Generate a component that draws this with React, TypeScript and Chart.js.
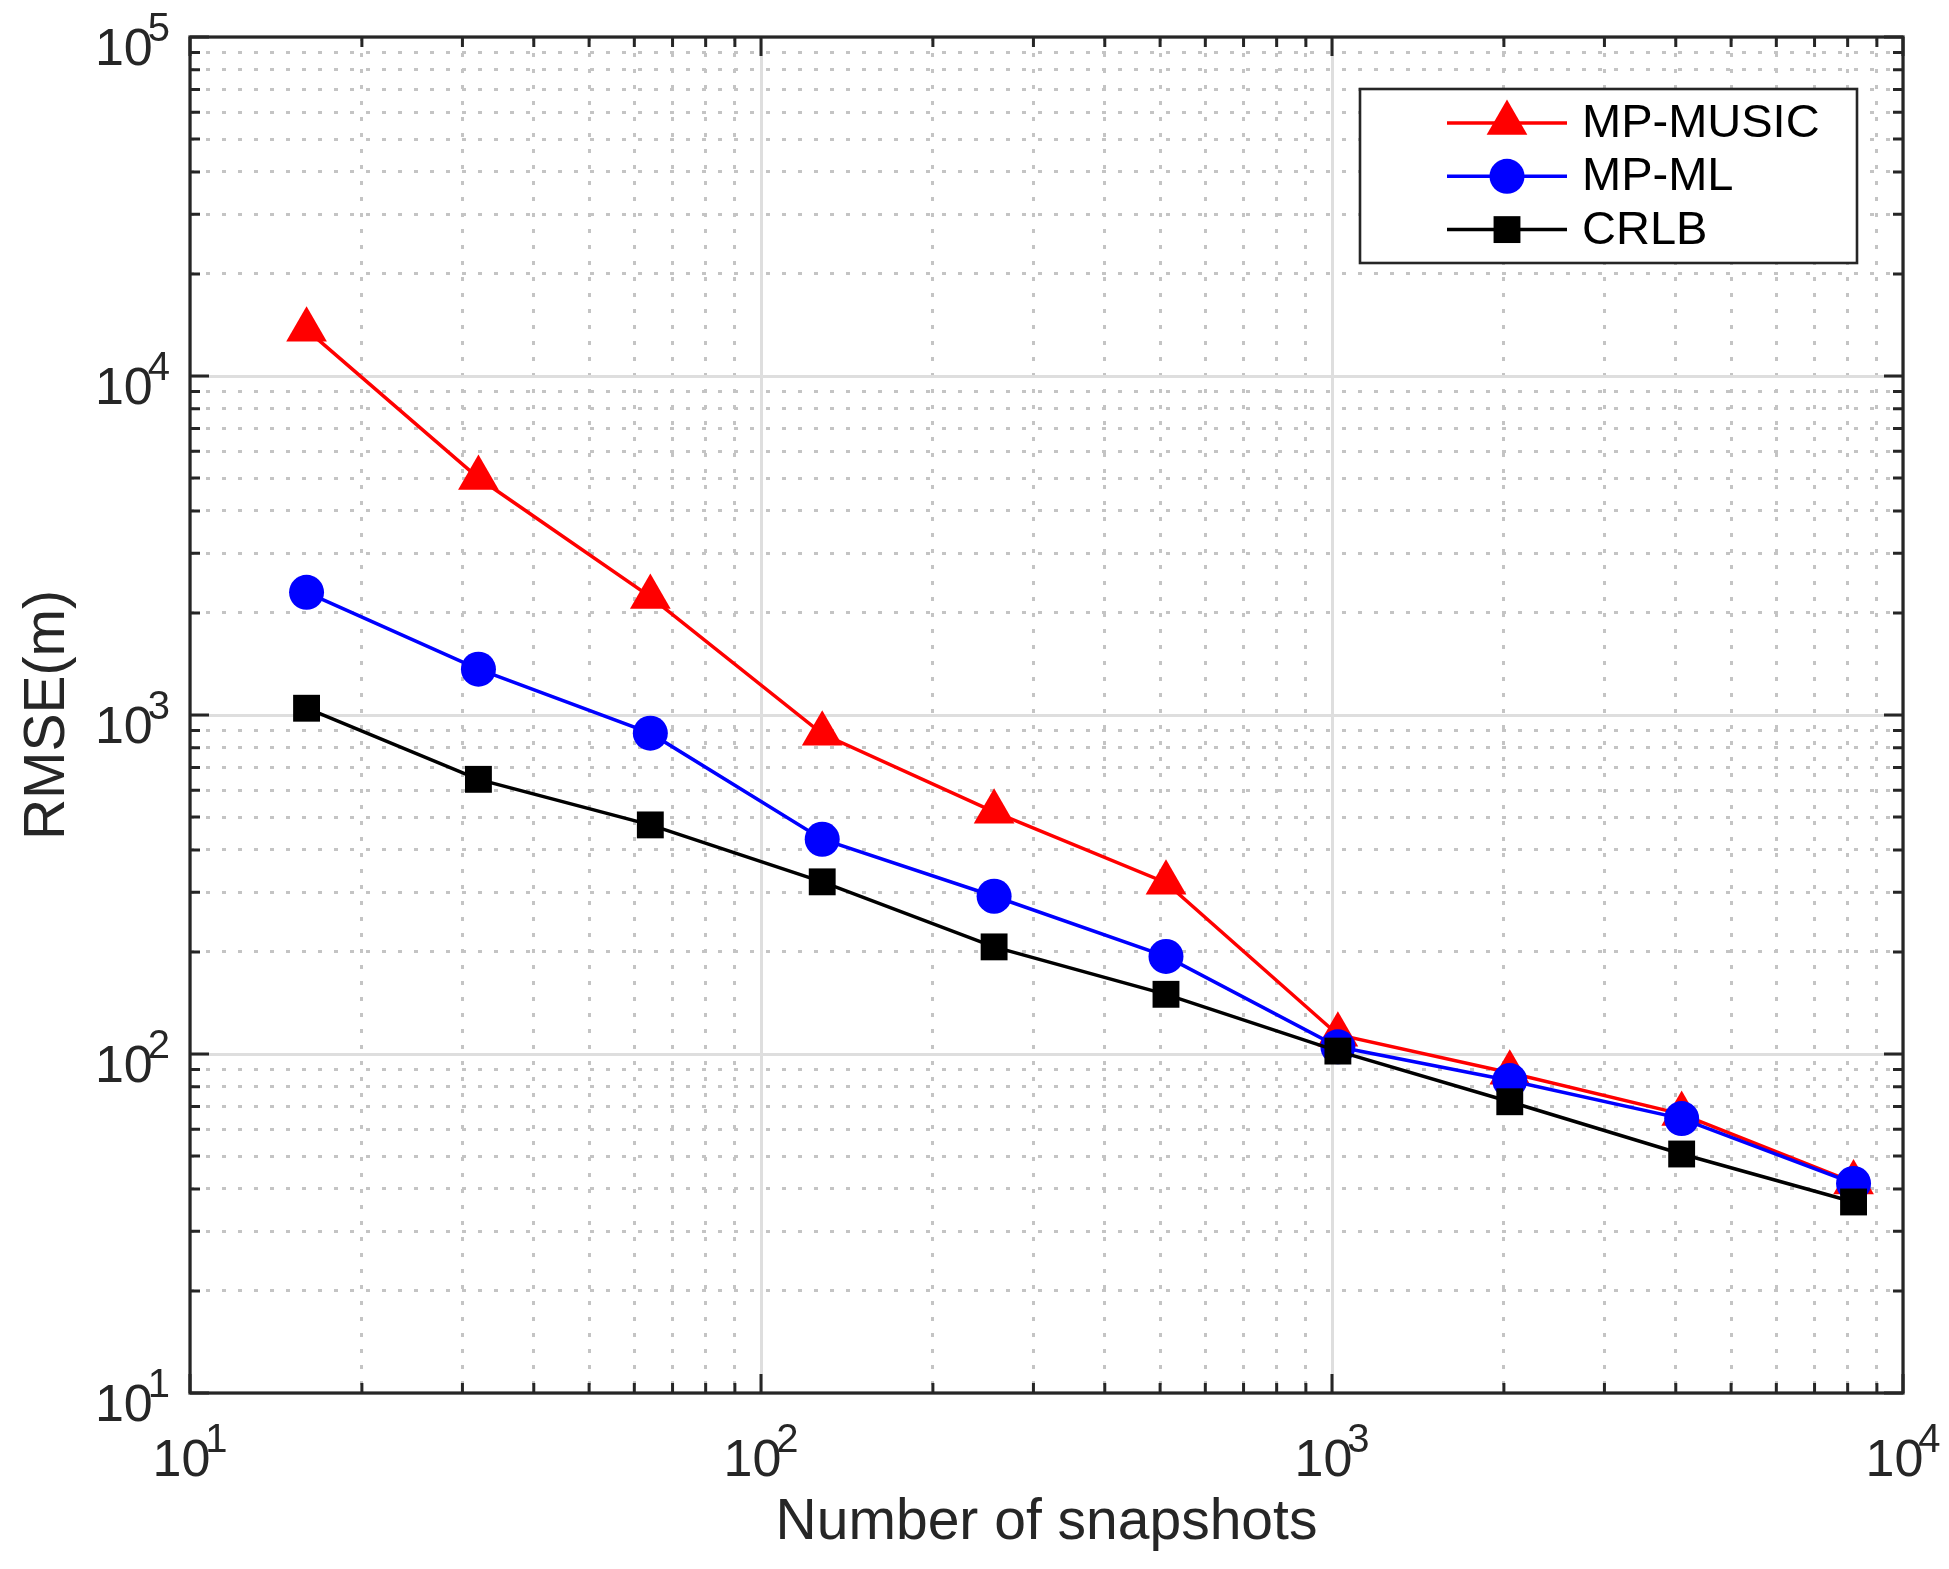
import React, { useEffect, useRef } from "react";
import { Chart, registerables } from "chart.js";
import { drawPoint } from "chart.js/helpers";

Chart.register(...registerables);

// values (log-log plot)
const snapshots = [16, 32, 64, 128, 256, 512, 1024, 2048, 4096, 8192];
const mpMusic = [13700, 5000, 2230, 880, 518, 320, 114, 88, 66.5, 41.8];
const mpMl = [2300, 1365, 884, 430, 292, 194, 105, 83.5, 64.5, 41.5];
const crlb = [1047, 646, 474, 322, 207, 150, 102, 72.3, 50.7, 36.6];

const xTickExponents = [1, 2, 3, 4];
const yTickExponents = [1, 2, 3, 4, 5];
const minorSteps = [1, 2, 3, 4, 5, 6, 7, 8, 9];

const FONT = "'Liberation Sans', Arial, Helvetica, sans-serif";
const AXIS = "#262626";

const isMajor = (v: number) =>
  Math.abs(Math.log10(v) - Math.round(Math.log10(v))) < 1e-6;

const gridTicks = (exps: number[]) => {
  const out: { value: number }[] = [];
  for (let i = 0; i < exps.length - 1; i++) {
    for (const m of minorSteps) out.push({ value: m * Math.pow(10, exps[i]) });
  }
  out.push({ value: Math.pow(10, exps[exps.length - 1]) });
  return out;
};

const gridOpts = {
  color: (c: any) =>
    c.tick && isMajor(c.tick.value) ? "#dedede" : "#c4c4c4",
  lineWidth: 3,
  drawTicks: false,
  tickLength: 0,
};

const borderOpts = {
  display: false,
  dash: (c: any) => (c.tick && !isMajor(c.tick.value) ? [4, 12] : []),
};

// MATLAB-like box, inward ticks, 10^n labels and legend
const matlabAxes = {
  id: "matlabAxes",
  afterDatasetsDraw(chart: any) {
    const { ctx, chartArea: a, scales } = chart;
    const xs = scales.x;
    const ys = scales.y;
    ctx.save();

    ctx.strokeStyle = AXIS;
    ctx.lineWidth = 3;
    ctx.beginPath();
    for (const t of xs.ticks) {
      const px = xs.getPixelForValue(t.value);
      const len = isMajor(t.value) ? 19 : 10;
      ctx.moveTo(px, a.bottom);
      ctx.lineTo(px, a.bottom - len);
      ctx.moveTo(px, a.top);
      ctx.lineTo(px, a.top + len);
    }
    for (const t of ys.ticks) {
      const py = ys.getPixelForValue(t.value);
      const len = isMajor(t.value) ? 19 : 10;
      ctx.moveTo(a.left, py);
      ctx.lineTo(a.left + len, py);
      ctx.moveTo(a.right, py);
      ctx.lineTo(a.right - len, py);
    }
    ctx.stroke();
    ctx.lineWidth = 3.2;
    ctx.strokeRect(a.left, a.top, a.right - a.left, a.bottom - a.top);

    // tick labels
    const baseFont = `52px ${FONT}`;
    const expFont = `40px ${FONT}`;
    ctx.fillStyle = AXIS;
    ctx.textBaseline = "alphabetic";
    ctx.textAlign = "left";
    const measure = (e: number) => {
      ctx.font = baseFont;
      const wb = ctx.measureText("10").width;
      ctx.font = expFont;
      const we = ctx.measureText(String(e)).width;
      return { wb, we, total: wb - 5 + we };
    };
    const label = (e: number, x0: number, baseY: number, expY: number) => {
      const { wb } = measure(e);
      ctx.font = baseFont;
      ctx.fillText("10", x0, baseY);
      ctx.font = expFont;
      ctx.fillText(String(e), x0 + wb - 5, expY);
    };
    for (const e of yTickExponents) {
      const py = ys.getPixelForValue(Math.pow(10, e));
      const { total } = measure(e);
      label(e, a.left - 20 - total, py + 28, py + 4);
    }
    for (const e of xTickExponents) {
      const px = xs.getPixelForValue(Math.pow(10, e));
      const { total } = measure(e);
      label(e, px - total / 2, a.bottom + 83, a.bottom + 59);
    }

    // legend
    const bw = 497;
    const bh = 174;
    const bx = a.right - 46 - bw;
    const by = a.top + 52;
    ctx.fillStyle = "#ffffff";
    ctx.fillRect(bx, by, bw, bh);
    ctx.strokeStyle = AXIS;
    ctx.lineWidth = 2.6;
    ctx.strokeRect(bx, by, bw, bh);
    ctx.font = `47px ${FONT}`;
    ctx.textBaseline = "middle";
    chart.data.datasets.forEach((ds: any, i: number) => {
      const ry = by + 34 + i * 53.3;
      ctx.strokeStyle = ds.borderColor;
      ctx.lineWidth = 3.5;
      ctx.beginPath();
      ctx.moveTo(bx + 87, ry);
      ctx.lineTo(bx + 207, ry);
      ctx.stroke();
      ctx.fillStyle = ds.backgroundColor;
      drawPoint(
        ctx,
        { pointStyle: ds.pointStyle, radius: ds.pointRadius, rotation: 0, borderWidth: 0 },
        bx + 147,
        ry
      );
      ctx.fillStyle = "#000000";
      ctx.fillText(ds.label, bx + 222, ry + 1);
    });

    ctx.restore();
  },
};

const toPoints = (ys: number[]) => snapshots.map((x, i) => ({ x, y: ys[i] }));

const App: React.FC = () => {
  const canvasRef = useRef<HTMLCanvasElement | null>(null);
  const chartRef = useRef<Chart | null>(null);

  useEffect(() => {
    document.body.style.margin = "0";
    if (!canvasRef.current) return;
    if (chartRef.current) chartRef.current.destroy();

    const ctx = canvasRef.current.getContext("2d");
    if (!ctx) return;

    chartRef.current = new Chart(ctx, {
      type: "line",
      data: {
        datasets: [
          {
            label: "MP-MUSIC",
            data: toPoints(mpMusic),
            borderColor: "#ff0000",
            backgroundColor: "#ff0000",
            borderWidth: 3.5,
            pointStyle: "triangle",
            pointRadius: 23.5,
            pointBorderWidth: 0,
            order: 3,
          },
          {
            label: "MP-ML",
            data: toPoints(mpMl),
            borderColor: "#0000ff",
            backgroundColor: "#0000ff",
            borderWidth: 3.5,
            pointStyle: "circle",
            pointRadius: 17.5,
            pointBorderWidth: 0,
            order: 2,
          },
          {
            label: "CRLB",
            data: toPoints(crlb),
            borderColor: "#000000",
            backgroundColor: "#000000",
            borderWidth: 3.5,
            pointStyle: "rect",
            pointRadius: 19,
            pointBorderWidth: 0,
            order: 1,
          },
        ],
      },
      options: {
        animation: false,
        responsive: true,
        maintainAspectRatio: false,
        devicePixelRatio: 1,
        events: [],
        layout: { padding: { top: 37, right: 46, left: 0, bottom: 0 } },
        plugins: {
          legend: { display: false },
          tooltip: { enabled: false },
        },
        scales: {
          x: {
            type: "logarithmic",
            position: "bottom",
            min: 10,
            max: 10000,
            ticks: { display: false },
            afterBuildTicks: (s: any) => {
              s.ticks = gridTicks(xTickExponents);
            },
            afterFit: (s: any) => {
              s.height = 176;
            },
            grid: gridOpts as any,
            border: borderOpts as any,
            title: {
              display: true,
              text: "Number of snapshots",
              color: AXIS,
              font: { family: FONT, size: 57 },
              padding: { top: 0, bottom: 12 },
            },
          },
          y: {
            type: "logarithmic",
            position: "left",
            min: 10,
            max: 100000,
            ticks: { display: false },
            afterBuildTicks: (s: any) => {
              s.ticks = gridTicks(yTickExponents);
            },
            afterFit: (s: any) => {
              s.width = 190;
            },
            grid: gridOpts as any,
            border: borderOpts as any,
            title: {
              display: true,
              text: "RMSE(m)",
              color: AXIS,
              font: { family: FONT, size: 57 },
              padding: { top: 14, bottom: 0 },
            },
          },
        },
      },
      plugins: [matlabAxes],
    } as any);

    return () => {
      if (chartRef.current) {
        chartRef.current.destroy();
        chartRef.current = null;
      }
    };
  }, []);

  return (
    <div style={{ width: "1949px", height: "1569px", position: "relative", background: "#ffffff" }}>
      <canvas ref={canvasRef}></canvas>
    </div>
  );
};

export default App;
